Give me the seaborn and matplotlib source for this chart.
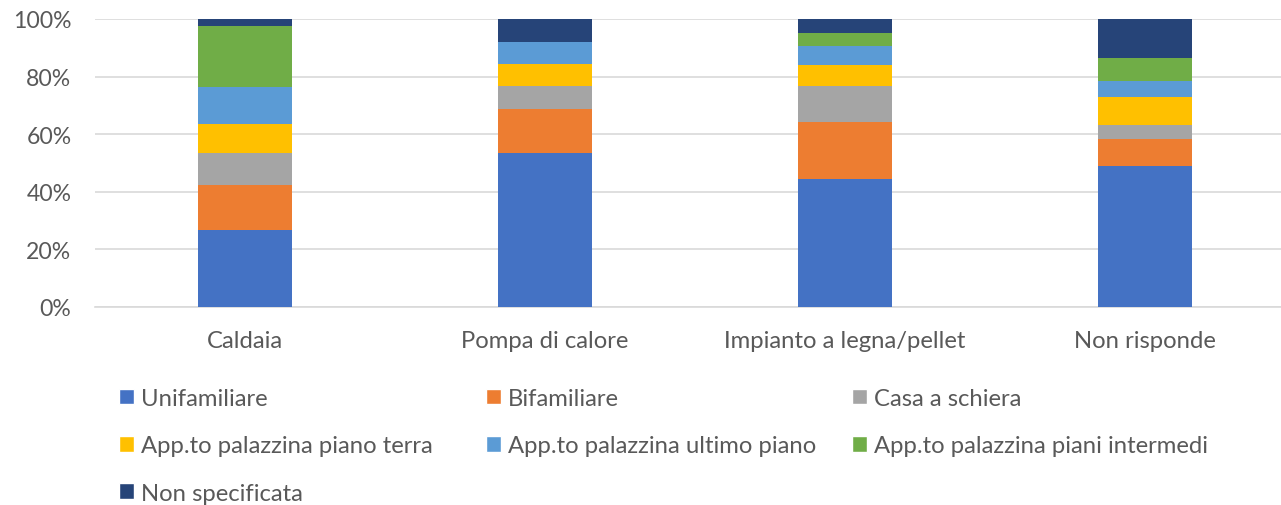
import pandas as pd
import numpy as np
import matplotlib.pyplot as plt
import seaborn as sns
from matplotlib.patches import Patch

# data (percent shares per heating system)
categories = ['Caldaia', 'Pompa di calore', 'Impianto a legna/pellet', 'Non risponde']
series = ['Unifamiliare', 'Bifamiliare', 'Casa a schiera',
          'App.to palazzina piano terra', 'App.to palazzina ultimo piano',
          'App.to palazzina piani intermedi', 'Non specificata']
unifamiliare = [26.7, 53.5, 44.6, 48.8]
bifamiliare = [15.8, 15.4, 19.5, 9.7]
casa_schiera = [10.9, 7.7, 12.5, 4.7]
piano_terra = [10.3, 7.9, 7.6, 9.7]
ultimo_piano = [12.8, 7.6, 6.3, 5.7]
piani_intermedi = [21.0, 0.0, 4.6, 7.7]
non_specificata = [2.5, 7.9, 4.9, 13.7]
colors = ['#4472C4', '#ED7D31', '#A5A5A5', '#FFC000', '#5B9BD5', '#70AD47', '#264478']

values = [unifamiliare, bifamiliare, casa_schiera, piano_terra,
          ultimo_piano, piani_intermedi, non_specificata]
df = pd.DataFrame(dict(zip(series, values)), index=categories)
df = df.div(df.sum(axis=1), axis=0) * 100
cum = df.cumsum(axis=1)

sns.set_style('white')
plt.rcParams['font.family'] = ['Lato', 'DejaVu Sans']
text_color = '#595959'
fs = 17.2

fig = plt.figure(figsize=(12.81, 5.06), dpi=100)
ax = fig.add_axes([95 / 1281, 1 - 308 / 506, 1200 / 1281, 288 / 506])

# stacked bars: draw cumulative totals from the top segment down
for name, color in reversed(list(zip(series, colors))):
    sns.barplot(x=categories, y=cum[name].values, color=color, width=0.313,
                linewidth=0, saturation=1, ax=ax, zorder=3)

ax.set_ylim(0, 100)
ax.set_xlim(-0.5, 3.5)
ax.set_yticks(range(0, 101, 20))
ax.set_yticklabels([f'{v}%' for v in range(0, 101, 20)])
ax.yaxis.grid(True, color='#d9d9d9', linewidth=1.2, zorder=0)
ax.tick_params(axis='both', length=0, colors=text_color)
ax.tick_params(axis='x', pad=16.5, labelsize=fs)
ax.tick_params(axis='y', pad=17, labelsize=16.6)
sns.despine(ax=ax, left=True, top=True, right=True, bottom=False)
ax.spines['bottom'].set_color('#d9d9d9')
ax.spines['bottom'].set_linewidth(1.2)
ax.set_xlabel('')
ax.set_ylabel('')

# legend laid out in three fixed-width columns like the original
columns = [[0, 3, 6], [1, 4], [2, 5]]
col_x = [119, 486, 852]
for idxs, x0 in zip(columns, col_x):
    handles = [Patch(facecolor=colors[i], label=series[i]) for i in idxs]
    fig.legend(handles=handles, loc='upper left',
               bbox_to_anchor=(x0 / 1281, 1 - 389 / 506),
               frameon=False, fontsize=fs, labelcolor=text_color,
               handlelength=0.63, handleheight=0.63, handletextpad=0.3,
               labelspacing=1.1, borderpad=0, borderaxespad=0)

fig.savefig('out.png', dpi=100)
